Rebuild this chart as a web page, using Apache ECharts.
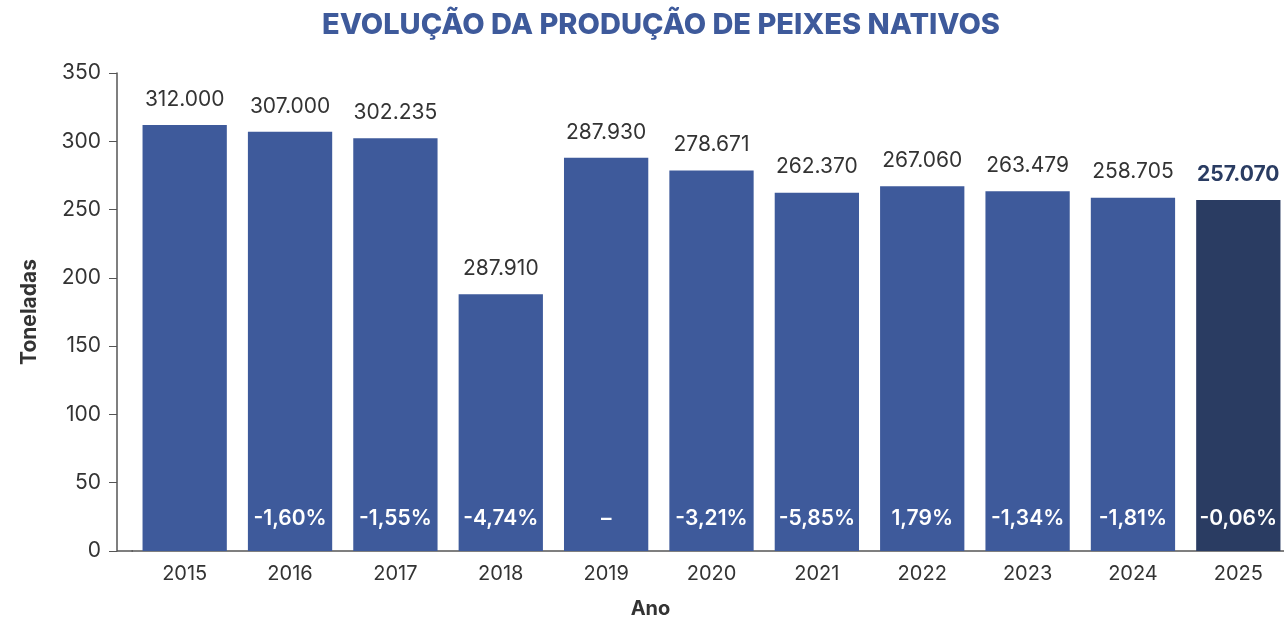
<!DOCTYPE html>
<html>
<head>
<meta charset="utf-8">
<script src="https://cdn.jsdelivr.net/npm/echarts@6/dist/echarts.min.js"></script>
<style>
  html, body { margin: 0; padding: 0; background: #fff; }
  #chart { width: 1284px; height: 618px; }
</style>
</head>
<body>
<div id="chart"></div>
<script>
// dados
const anos = ["2015", "2016", "2017", "2018", "2019", "2020", "2021", "2022", "2023", "2024", "2025"];
const producao = [312.0, 307.0, 302.235, 187.91, 287.93, 278.671, 262.37, 267.06, 263.479, 258.705, 257.07];
const rotulos = ["312.000", "307.000", "302.235", "287.910", "287.930", "278.671", "262.370", "267.060", "263.479", "258.705", "257.070"];
const variacao = ["", "-1,60%", "-1,55%", "-4,74%", "–", "-3,21%", "-5,85%", "1,79%", "-1,34%", "-1,81%", "-0,06%"];

const corBarra = "#3e5a9b";
const corDestaque = "#2a3c62";
const fonte = "Inter, 'Noto Sans', sans-serif";

const chart = echarts.init(document.getElementById("chart"));

const dados = producao.map((v, i) => {
  const ultimo = i === producao.length - 1;
  return {
    value: v,
    itemStyle: { color: ultimo ? corDestaque : corBarra },
    label: ultimo ? { color: corDestaque, fontWeight: "bold" } : undefined,
  };
});

chart.setOption({
  textStyle: { fontFamily: fonte },
  title: {
    text: "EVOLUÇÃO DA PRODUÇÃO DE PEIXES NATIVOS",
    left: 656,
    top: 6,
    textAlign: "center",
    textStyle: { color: "#3e5a9b", fontSize: 29, fontWeight: 800, fontFamily: fonte },
  },
  grid: { left: 132, right: -7, top: 73, bottom: 67, outerBoundsMode: "none" },
  xAxis: {
    type: "category",
    data: anos,
    name: "Ano",
    nameLocation: "middle",
    nameGap: 48,
    nameTextStyle: { color: "#333", fontSize: 20, fontWeight: "bold", padding: [0, 122, 0, 0] },
    axisLine: { lineStyle: { color: "#555", width: 1.5 } },
    axisTick: { show: false },
    axisLabel: { color: "#333", fontSize: 20, margin: 13 },
  },
  yAxis: {
    type: "value",
    min: 0,
    max: 350,
    interval: 50,
    offset: 15,
    name: "Toneladas",
    nameLocation: "middle",
    nameGap: 77,
    nameTextStyle: { color: "#333", fontSize: 21, fontWeight: "bold" },
    axisLine: { show: true, lineStyle: { color: "#555", width: 1.5 } },
    axisTick: { show: true, length: 8, lineStyle: { color: "#555" } },
    axisLabel: { color: "#333", fontSize: 21, margin: 16 },
    splitLine: { show: false },
  },
  graphic: [
    { type: "line", shape: { x1: 117, y1: 551, x2: 133, y2: 551 }, style: { stroke: "#555", lineWidth: 1.5 } },
  ],
  series: [
    {
      name: "Produção",
      type: "bar",
      data: dados,
      barWidth: "80%",
      label: {
        show: true,
        position: "top",
        distance: 15,
        color: "#333",
        fontSize: 21,
        formatter: (p) => rotulos[p.dataIndex],
      },
      animation: false,
    },
    {
      name: "Variação",
      type: "bar",
      data: producao,
      barWidth: "80%",
      barGap: "-100%",
      itemStyle: { color: "transparent" },
      label: {
        show: true,
        position: "insideBottom",
        distance: 22,
        color: "#fff",
        fontSize: 21,
        fontWeight: 600,
        formatter: (p) => variacao[p.dataIndex],
      },
      silent: true,
      animation: false,
    },
  ],
});

window.addEventListener("resize", () => chart.resize());
</script>
</body>
</html>
